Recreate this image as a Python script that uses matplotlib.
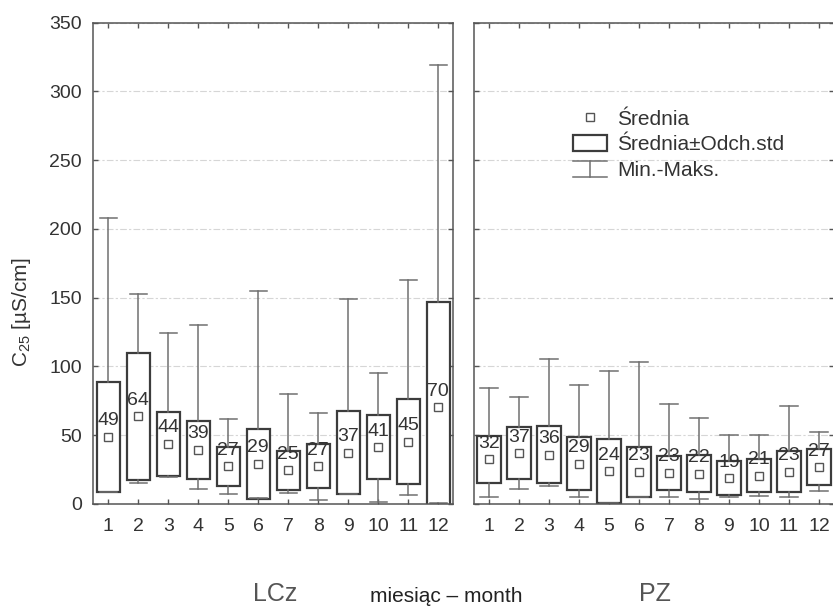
import matplotlib
matplotlib.use('Agg')
import matplotlib.pyplot as plt
from matplotlib.legend_handler import HandlerBase
from matplotlib.patches import Rectangle
from matplotlib.lines import Line2D

plt.rcParams['font.family'] = ['Liberation Sans', 'DejaVu Sans']

# ---------------- data ----------------
months = list(range(1, 13))
month_labels = [str(m) for m in months]

lcz_mean = [49.0, 63.8, 43.7, 39.3, 27.4, 29.4, 24.6, 27.4, 37.4, 41.4, 45.4, 70.2]
lcz_std = [40.0, 46.2, 23.3, 21.4, 14.0, 25.5, 14.3, 16.0, 30.4, 23.4, 31.1, 76.4]
lcz_min = [9.0, 15.0, 19.5, 11.0, 7.0, 4.0, 7.8, 3.0, 7.0, 1.7, 6.5, 0.5]
lcz_max = [208.0, 153.0, 124.0, 130.0, 62.0, 155.0, 80.0, 66.5, 149.0, 95.6, 162.6, 319.0]

pz_mean = [32.4, 36.9, 35.9, 29.4, 24.0, 23.4, 22.7, 22.0, 18.7, 20.6, 23.4, 26.7]
pz_std = [17.0, 18.9, 20.9, 19.2, 23.0, 18.0, 12.5, 13.3, 12.4, 12.1, 14.8, 13.1]
pz_min = [5.3, 11.0, 13.0, 4.9, 0.5, 4.9, 5.3, 3.9, 5.3, 5.8, 4.9, 9.7]
pz_max = [84.0, 77.7, 105.8, 86.4, 97.0, 103.4, 72.8, 62.4, 50.3, 50.3, 71.4, 52.2]

y_ticks = [0, 50, 100, 150, 200, 250, 300, 350]

# ---------------- style ----------------
BOX_C = '#3c3c3c'
WH_C = '#707070'
SPINE_C = '#555555'
TXT_C = '#333333'

W, H = 833, 607
fig = plt.figure(figsize=(W / 100, H / 100), dpi=100)


def ax_rect(x0, y0, x1, y1):
    return [x0 / W, 1 - y1 / H, (x1 - x0) / W, (y1 - y0) / H]


ax1 = fig.add_axes(ax_rect(93.3, 22.7, 453.3, 504))
ax2 = fig.add_axes(ax_rect(474, 22.7, 834, 504), sharey=ax1)


def draw(ax, means, stds, mins, maxs, width):
    stats = [dict(med=m, q1=m - s, q3=m + s, whislo=lo, whishi=hi, mean=m, fliers=[])
             for m, s, lo, hi in zip(means, stds, mins, maxs)]
    res = ax.bxp(stats, positions=months, widths=width, capwidths=0.57,
                 showmeans=True, patch_artist=True, manage_ticks=False,
                 boxprops=dict(facecolor='white', edgecolor=BOX_C, linewidth=1.6),
                 whiskerprops=dict(color=WH_C, linewidth=1.1),
                 capprops=dict(color=WH_C, linewidth=1.1),
                 medianprops=dict(linewidth=0),
                 meanprops=dict(marker='s', markersize=6, markerfacecolor='white',
                                markeredgecolor='#555555', markeredgewidth=1.0))
    for ln in res['medians']:
        ln.set_visible(False)
    for x, m in zip(months, means):
        ax.annotate(f"{m:.0f}", (x, m), xytext=(0, 11.5), textcoords='offset points',
                    ha='center', va='center', fontsize=14, color=TXT_C, zorder=6)

    ax.set_xlim(0.5, 12.5)
    ax.set_ylim(0, 350)
    ax.set_xticks(months)
    ax.set_xticklabels(month_labels)
    ax.set_yticks(y_ticks)
    ax.yaxis.grid(True, color='#d6d6d6', linestyle=(0, (6, 2, 2, 2)), linewidth=0.8)
    ax.set_axisbelow(True)
    ax.tick_params(direction='in', top=True, right=True, length=3.5, width=1.0,
                   color=SPINE_C, labelsize=14, labelcolor=TXT_C)
    ax.tick_params(axis='x', pad=10)
    ax.tick_params(axis='y', pad=8.3)
    for sp in ax.spines.values():
        sp.set_color(SPINE_C)
        sp.set_linewidth(1.1)


draw(ax1, lcz_mean, lcz_std, lcz_min, lcz_max, 0.76)
draw(ax2, pz_mean, pz_std, pz_min, pz_max, 0.80)
ax2.tick_params(axis='y', labelleft=False)


# ---------------- legend ----------------
class BoxKey:
    pass


class WhiskerKey:
    pass


class BoxHandler(HandlerBase):
    def create_artists(self, legend, orig_handle, xdescent, ydescent, width, height,
                       fontsize, trans):
        r = Rectangle((-xdescent, -ydescent), width, height, facecolor='white',
                      edgecolor=BOX_C, linewidth=1.6, transform=trans)
        return [r]


class WhiskerHandler(HandlerBase):
    def create_artists(self, legend, orig_handle, xdescent, ydescent, width, height,
                       fontsize, trans):
        x0, y0 = -xdescent, -ydescent
        xc = x0 + width / 2
        top = Line2D([x0, x0 + width], [y0 + height, y0 + height], color=WH_C, lw=1.1, transform=trans)
        bot = Line2D([x0, x0 + width], [y0, y0], color=WH_C, lw=1.1, transform=trans)
        mid = Line2D([xc, xc], [y0, y0 + height], color=WH_C, lw=1.1, transform=trans)
        return [top, bot, mid]


mean_handle = Line2D([], [], marker='s', linestyle='none', markersize=6,
                     markerfacecolor='white', markeredgecolor='#555555', markeredgewidth=1.0)
leg = ax2.legend([mean_handle, BoxKey(), WhiskerKey()],
                 ['Średnia', 'Średnia±Odch.std', 'Min.-Maks.'],
                 handler_map={BoxKey: BoxHandler(), WhiskerKey: WhiskerHandler()},
                 loc='upper left', bbox_to_anchor=(573 / W, 1 - 109 / H),
                 bbox_transform=fig.transFigure, frameon=False, fontsize=15,
                 handlelength=1.63, handleheight=0.85, handletextpad=0.48,
                 labelspacing=0.3, borderpad=0, borderaxespad=0)
for t in leg.get_texts():
    t.set_color(TXT_C)

# ---------------- labels ----------------
fig.text(21.7 / W, 1 - 312 / H, r'$\mathregular{C_{25}}$ [µS/cm]', rotation=90,
         ha='center', va='center', fontsize=15, color=TXT_C)
fig.text(275 / W, 1 - 594 / H, 'LCz', ha='center', va='center', fontsize=18, color='#555555')
fig.text(655 / W, 1 - 594 / H, 'PZ', ha='center', va='center', fontsize=18, color='#555555')
fig.text(446.7 / W, 1 - 602 / H, 'miesiąc – month', ha='center', va='baseline',
         fontsize=15, color='#222222')

fig.savefig('out.png', dpi=100)
